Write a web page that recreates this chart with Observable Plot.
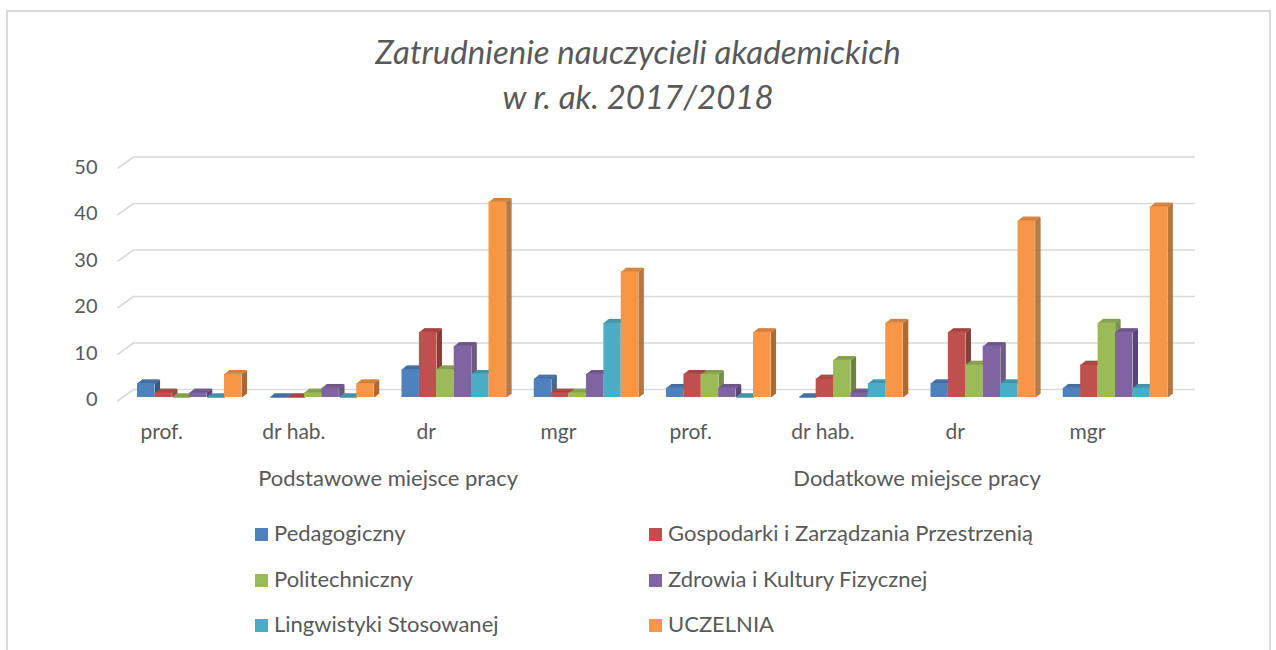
<!DOCTYPE html>
<html>
<head>
<meta charset="utf-8">
<script src="https://cdn.jsdelivr.net/npm/d3@7"></script>
<script src="https://cdn.jsdelivr.net/npm/@observablehq/plot@0.6"></script>
<style>
  html, body { margin: 0; padding: 0; background: #fff; }
  #wrap { position: relative; width: 1276px; height: 650px; overflow: hidden; font-family: Lato, "Open Sans", sans-serif; color: #595959; }
  #frame { position: absolute; left: 6px; top: 10px; width: 1265px; height: 700px; border: 2px solid #d9d9d9; box-sizing: border-box; }
  #title { position: absolute; left: 0; top: 29px; width: 1276px; text-align: center; font-size: 33px; line-height: 45px; font-style: italic; font-weight: 400; color: #595959; }
  #chart { position: absolute; left: 0; top: 0; }
  .lg { position: absolute; font-size: 22px; line-height: 24px; white-space: nowrap; color: #595959; }
  .lg span.sw { display: inline-block; width: 13px; height: 13px; margin-right: 6px; vertical-align: 0px; }
</style>
</head>
<body>
<div id="wrap">
  <div id="frame"></div>
  <div id="chart"></div>
  <div id="title">Zatrudnienie nauczycieli akademickich<br>w r. ak. 2017/2018</div>
  <div id="legend"></div>
</div>
<script>
// ---- data ----
const categories = ["prof.", "dr hab.", "dr", "mgr"];
const groups = ["Podstawowe miejsce pracy", "Dodatkowe miejsce pracy"];
const series = ["Pedagogiczny", "Gospodarki i Zarządzania Przestrzenią", "Politechniczny", "Zdrowia i Kultury Fizycznej", "Lingwistyki Stosowanej", "UCZELNIA"];
// values: Podstawowe (prof., dr hab., dr, mgr), Dodatkowe (prof., dr hab., dr, mgr)
const pedagogiczny   = [3, 0, 6, 4, 2, 0, 3, 2];
const gospodarki     = [1, 0, 14, 1, 5, 4, 14, 7];
const politechniczny = [0, 1, 6, 1, 5, 8, 7, 16];
const zdrowia        = [1, 2, 11, 5, 2, 1, 11, 14];
const lingwistyki    = [0, 0, 5, 16, 0, 3, 3, 2];
const uczelnia       = [5, 3, 42, 27, 14, 16, 38, 41];
const yTicks = [0, 10, 20, 30, 40, 50];
const colors = ["#4f81bd", "#c0504d", "#9bbb59", "#8064a2", "#4bacc6", "#f79646"];

// ---- build table ----
const seriesValues = [pedagogiczny, gospodarki, politechniczny, zdrowia, lingwistyki, uczelnia];
const columns = groups.flatMap((g, gi) => categories.map((c, k) => ({group: g, gi, cat: c, ci: gi * categories.length + k})));
const table = [];
series.forEach((s, si) => seriesValues[si].forEach((v, ci) => table.push({series: s, si, ci, value: v})));

// layout (in slot units of the linear x scale)
const STEP = 7.6;           // category step
const NS = series.length;   // bars per category
const xL = d => d.ci * STEP + d.si;
const topColor = si => d3.color(colors[si]).darker(0.45).formatHex();
const sideColor = si => d3.color(colors[si]).darker(1.0).formatHex();

const width = 1276, height = 500;
const marginLeft = 133, marginRight = 81, marginTop = 164.5, marginBottom = 103;
const xDomain = [-0.23, 60.8];
const slotPx = (width - marginLeft - marginRight) / (xDomain[1] - xDomain[0]);
const yPx = (height - marginTop - marginBottom) / 50;
const depthX = 16, depthYFront = 3.5, depthYBack = 8;

const offs = [0.5, 1.5, 2.5, 3.5, 4.5];
const sides = offs.map(k => Plot.link(table, {
  x1: d => xL(d) + 1, x2: d => xL(d) + 1, y1: 0, y2: "value",
  stroke: d => sideColor(d.si), strokeWidth: 1.3, dx: k, dy: -0.8 * k
}));
const tops = offs.map(k => Plot.link(table, {
  x1: d => xL(d), x2: d => xL(d) + 1, y1: "value", y2: "value",
  stroke: d => topColor(d.si), strokeWidth: 1.3, dx: k, dy: -0.8 * k
}));

const chart = Plot.plot({
  width, height, marginLeft, marginRight, marginTop, marginBottom,
  style: {fontFamily: "Lato, 'Open Sans', sans-serif", color: "#595959", background: "transparent", overflow: "visible"},
  x: {type: "linear", domain: xDomain, axis: null},
  y: {domain: [0, 50], axis: null},
  color: {type: "identity"},
  marks: [
    // back-wall gridlines
    Plot.ruleY(yTicks, {dy: -depthYBack, stroke: "#d9d9d9", strokeWidth: 1.6}),
    // side-wall diagonals
    Plot.link(yTicks, {
      x1: xDomain[0] - depthX / slotPx, x2: xDomain[0],
      y1: d => d - (depthYFront + depthYBack) / yPx, y2: d => d,
      dy: -depthYBack, stroke: "#d9d9d9", strokeWidth: 1.6
    }),
    Plot.axisY(yTicks, {tickSize: 0, tickPadding: 36, dy: 2.5, fontSize: 20, label: null}),
    ...sides,
    ...tops,
    Plot.rectY(table, {x1: d => xL(d), x2: d => xL(d) + 1, y1: 0, y2: "value", fill: d => colors[d.si]}),
    // category labels
    Plot.text(columns, {x: d => (d.ci * STEP) + NS / 2, y: 0, text: "cat", dy: 35, dx: -28, fontSize: 21}),
    // group labels
    Plot.text(groups, {x: (d, i) => (i * 4 + 1.5) * STEP + NS / 2, y: 0, text: d => d, dy: 81, fontSize: 22})
  ]
});
document.getElementById("chart").appendChild(chart);

// legend
const lg = document.getElementById("legend");
series.forEach((s, i) => {
  const col = i % 2, row = Math.floor(i / 2);
  const el = document.createElement("div");
  el.className = "lg";
  el.style.left = (col === 0 ? 255 : 649) + "px";
  el.style.top = (521 + row * 45.5) + "px";
  el.innerHTML = `<span class="sw" style="background:${colors[i]}"></span>${s}`;
  lg.appendChild(el);
});
</script>
</body>
</html>
